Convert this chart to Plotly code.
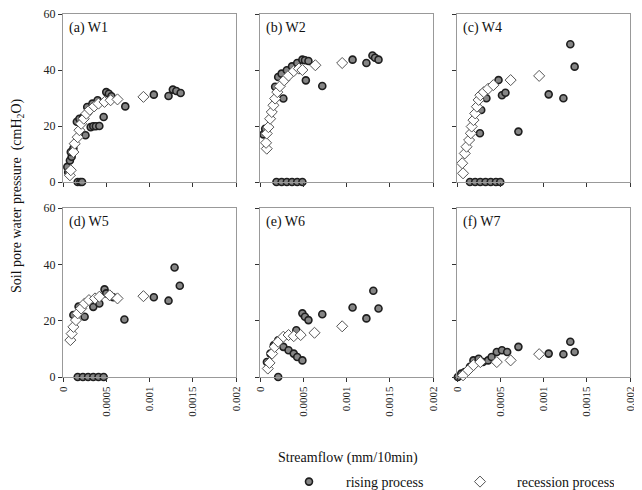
import plotly.graph_objects as go

FONT = "Liberation Serif"

panel_labels = ["(a) W1", "(b) W2", "(c) W4", "(d) W5", "(e) W6", "(f) W7"]
x_ticks = [0, 0.0005, 0.001, 0.0015, 0.002]
x_tick_text = ["0", "0.0005", "0.001", "0.0015", "0.002"]
y_ticks = [0, 20, 40, 60]

# ---- (a) W1 ----
w1_rise_x = [0.00017, 0.0002, 0.00022, 0.00005, 0.00008, 0.0001, 0.00009, 0.00006, 0.00012,
             0.00016, 0.00019, 0.00023, 0.00026, 0.00032, 0.00035, 0.00038, 0.00042,
             0.00028, 0.00034, 0.0004, 0.00047, 0.0005, 0.00053, 0.00056, 0.00072,
             0.00105, 0.00122, 0.00127, 0.00131, 0.00136]
w1_rise_y = [0, 0, 0, 5.4, 7.7, 9, 10.7, 3.5, 12,
             21.5, 22.6, 23, 16.7, 19.6, 19.9, 19.9, 20,
             26.8, 28, 29.2, 23.2, 32.1, 31.5, 30.6, 27,
             31.2, 30.7, 33, 32.5, 31.8]
w1_rec_x = [0.00008, 0.00009, 0.00012, 0.000135, 0.00017, 0.00019, 0.00021, 0.00024, 0.00027,
            0.00031, 0.00036, 0.00041, 0.00048, 0.00055, 0.00063, 0.00093]
w1_rec_y = [2.4, 4.2, 10.7, 13.7, 16, 18.5, 20.8, 22.6, 24.4,
            25.8, 27, 28, 28.6, 29.2, 29.5, 30.4]

# ---- (b) W2 ----
w2_rise_x = [0.00019, 0.00025, 0.00031, 0.00037, 0.00043, 0.00049,
             0.000175, 0.00021, 0.00025, 0.00031, 0.00037, 0.00043, 0.00049, 0.00052, 0.00056,
             0.00027, 0.00053, 0.00072, 0.00107, 0.00123, 0.0013, 0.00133, 0.00137,
             0.00004, 0.00006]
w2_rise_y = [0, 0, 0, 0, 0, 0,
             34, 37.5, 38.7, 39.9, 41.3, 42.5, 43.7, 43.5, 43.2,
             29.8, 36.3, 34.3, 43.7, 42.5, 45.2, 44.4, 43.7,
             17, 19]
w2_rec_x = [0.000078, 0.00007, 0.000078, 0.000097, 0.000117, 0.000136, 0.000155, 0.000175, 0.0002,
            0.00023, 0.00028, 0.00033, 0.00039, 0.00045, 0.00049, 0.00064, 0.00095]
w2_rec_y = [11.9, 14, 17.3, 19.6, 22.6, 25, 27.4, 29.8, 32.1,
            34.2, 36.3, 38, 39.6, 40.5, 40, 41.7, 42.5]

# ---- (c) W4 ----
w4_rise_x = [0.00015, 0.00021, 0.00027, 0.00033, 0.00039, 0.00045, 0.0005,
             0.000265, 0.00028, 0.00034, 0.00048, 0.00052, 0.00056,
             0.00071, 0.00106, 0.00123, 0.00131, 0.00136]
w4_rise_y = [0, 0, 0, 0, 0, 0, 0,
             17.4, 25.7, 29.9, 36.4, 31, 31.9,
             18, 31.3, 29.9, 49.2, 41.2]
w4_rec_x = [0.00007, 0.00006, 0.00009, 0.00011, 0.00014, 0.00016, 0.00017, 0.00019, 0.00021,
            0.00023, 0.00025, 0.00027, 0.00031, 0.00036, 0.00042, 0.00062, 0.00095]
w4_rec_y = [3.1, 6.7, 10.2, 12.6, 15, 17.4, 19.8, 22.1, 24.5,
            26.9, 29.3, 31, 32.1, 33.3, 34.6, 36.4, 37.9]

# ---- (d) W5 ----
w5_rise_x = [0.00017, 0.00023, 0.00029, 0.00035, 0.00041, 0.00047,
             0.00012, 0.00018, 0.00025, 0.00035, 0.00042, 0.00048, 0.0005, 0.00054, 0.00058,
             0.00071, 0.00105, 0.00122, 0.00129, 0.00135]
w5_rise_y = [0, 0, 0, 0, 0, 0,
             22, 25, 21.4, 24.9, 26.1, 31.1, 29.7, 29.1, 28.3,
             20.4, 28.3, 27.1, 38.9, 32.4]
w5_rec_x = [0.000085, 0.0001, 0.00012, 0.00015, 0.00017, 0.00021, 0.00025, 0.0003, 0.00037,
            0.00042, 0.00054, 0.00063, 0.00093]
w5_rec_y = [13.1, 15.4, 17.8, 20.2, 22.6, 24.3, 26.1, 27.3, 27.9,
            28.5, 29, 27.9, 28.7]

# ---- (e) W6 ----
w6_rise_x = [0.00021, 0.00008, 0.00012, 0.00016, 0.00021, 0.00027, 0.00033, 0.00039, 0.00043,
             0.00049, 0.00042, 0.00049, 0.00052, 0.00056, 0.00072, 0.00107, 0.00123,
             0.00131, 0.00137]
w6_rise_y = [0, 5.3, 8.3, 11.3, 13, 10.7, 9.5, 8.3, 7.1,
             5.9, 16.6, 22.6, 21.4, 20.2, 22.3, 24.7, 20.8,
             30.6, 24.3]
w6_rec_x = [0.00009, 0.00011, 0.00014, 0.00017, 0.00021, 0.00027, 0.00033, 0.00039, 0.00047,
            0.00063, 0.00095]
w6_rec_y = [3, 5, 8.3, 10.7, 12.5, 14.3, 14.9, 14.5, 14.9,
            15.7, 18]

# ---- (f) W7 ----
w7_rise_x = [0.00001, 0.00005, 0.00009, 0.00015, 0.00019, 0.00025, 0.0003, 0.00036, 0.0004,
             0.00046, 0.00052, 0.00058, 0.00071, 0.00106, 0.00123, 0.00131, 0.00136]
w7_rise_y = [0, 1.2, 1.8, 3.6, 5.9, 6.5, 5.3, 5.9, 7.1,
             8.9, 9.5, 8.9, 10.7, 8.3, 8.1, 12.5, 8.9]
w7_rec_x = [0.00007, 0.00013, 0.00019, 0.00027, 0.00046, 0.00062, 0.00095]
w7_rec_y = [0.6, 2.4, 4.2, 5.3, 5.3, 5.9, 8.1]

rise_x = [w1_rise_x, w2_rise_x, w4_rise_x, w5_rise_x, w6_rise_x, w7_rise_x]
rise_y = [w1_rise_y, w2_rise_y, w4_rise_y, w5_rise_y, w6_rise_y, w7_rise_y]
rec_x = [w1_rec_x, w2_rec_x, w4_rec_x, w5_rec_x, w6_rec_x, w7_rec_x]
rec_y = [w1_rec_y, w2_rec_y, w4_rec_y, w5_rec_y, w6_rec_y, w7_rec_y]

# page body has an 8px margin: figure drawn 8px in from the window edge
OFF = 8
W, H = 642 - OFF, 490 - OFF
col_px = [(63 - OFF, 236 - OFF), (260 - OFF, 433 - OFF), (457 - OFF, 630 - OFF)]
row_px = [(14 - OFF, 182 - OFF), (208 - OFF, 377 - OFF)]

fig = go.Figure()
layout = dict(
    width=W, height=H, margin=dict(l=0, r=0, t=0, b=0, autoexpand=False),
    paper_bgcolor="white", plot_bgcolor="white",
    font=dict(family=FONT, size=12, color="#222"),
    showlegend=True,
)
annotations = []

for i in range(6):
    r, c = divmod(i, 3)
    n = "" if i == 0 else str(i + 1)
    xa, ya = "x" + n, "y" + n
    x0, x1 = col_px[c]
    y0, y1 = row_px[r]
    layout["xaxis" + n] = dict(
        domain=[x0 / W, x1 / W], anchor=ya, range=[0, 0.002], automargin=False,
        tickvals=x_ticks, ticktext=x_tick_text, showticklabels=(r == 1),
        tickangle=-90, ticks="outside", ticklen=4, tickcolor="#333",
        ticklabeloverflow="allow",
        showline=True, mirror=True, linecolor="#999", linewidth=1,
        showgrid=False, zeroline=False, tickfont=dict(size=11, family=FONT, color="#222"),
    )
    layout["yaxis" + n] = dict(
        domain=[1 - y1 / H, 1 - y0 / H], anchor=xa, range=[0, 60], automargin=False,
        tickvals=y_ticks, showticklabels=(c == 0),
        ticks="outside", ticklen=4, tickcolor="#333",
        ticklabeloverflow="allow",
        showline=True, mirror=True, linecolor="#999", linewidth=1,
        showgrid=False, zeroline=False, tickfont=dict(size=12, family=FONT, color="#222"),
    )
    fig.add_trace(go.Scatter(
        x=rise_x[i], y=rise_y[i], mode="markers", xaxis=xa, yaxis=ya,
        name="rising process", legendgroup="rise", showlegend=(i == 0),
        cliponaxis=False,
        marker=dict(symbol="circle", size=7, color="#858585",
                    line=dict(color="#1e1e1e", width=1.6)),
    ))
    fig.add_trace(go.Scatter(
        x=rec_x[i], y=rec_y[i], mode="markers", xaxis=xa, yaxis=ya,
        name="recession process", legendgroup="rec", showlegend=(i == 0),
        cliponaxis=False,
        marker=dict(symbol="diamond", size=8.5, color="white",
                    line=dict(color="#555", width=1)),
    ))
    annotations.append(dict(
        text=panel_labels[i], xref=xa + " domain", yref=ya + " domain",
        x=0.025, y=0.975, xanchor="left", yanchor="top", showarrow=False,
        font=dict(size=14, family=FONT, color="#111"),
    ))

annotations.append(dict(
    text="Soil pore water pressure  (cmH<sub>2</sub>O)", xref="paper", yref="paper",
    x=(18 - OFF) / W, y=1 - (196 - OFF) / H, textangle=-90, showarrow=False,
    xanchor="center", yanchor="middle",
    font=dict(size=14, family=FONT, color="#111"),
))
annotations.append(dict(
    text="Streamflow (mm/10min)", xref="paper", yref="paper",
    x=(348 - OFF) / W, y=1 - (458 - OFF) / H, showarrow=False,
    xanchor="center", yanchor="middle",
    font=dict(size=14, family=FONT, color="#111"),
))
layout["annotations"] = annotations
layout["legend"] = dict(
    orientation="h", x=(272 - OFF) / W, y=1 - (482 - OFF) / H, xanchor="left", yanchor="middle",
    itemwidth=64, entrywidth=92, entrywidthmode="pixels",
    font=dict(size=14, family=FONT, color="#111"), bgcolor="rgba(0,0,0,0)",
)
fig.update_layout(**layout)
fig.write_html("out.html")
